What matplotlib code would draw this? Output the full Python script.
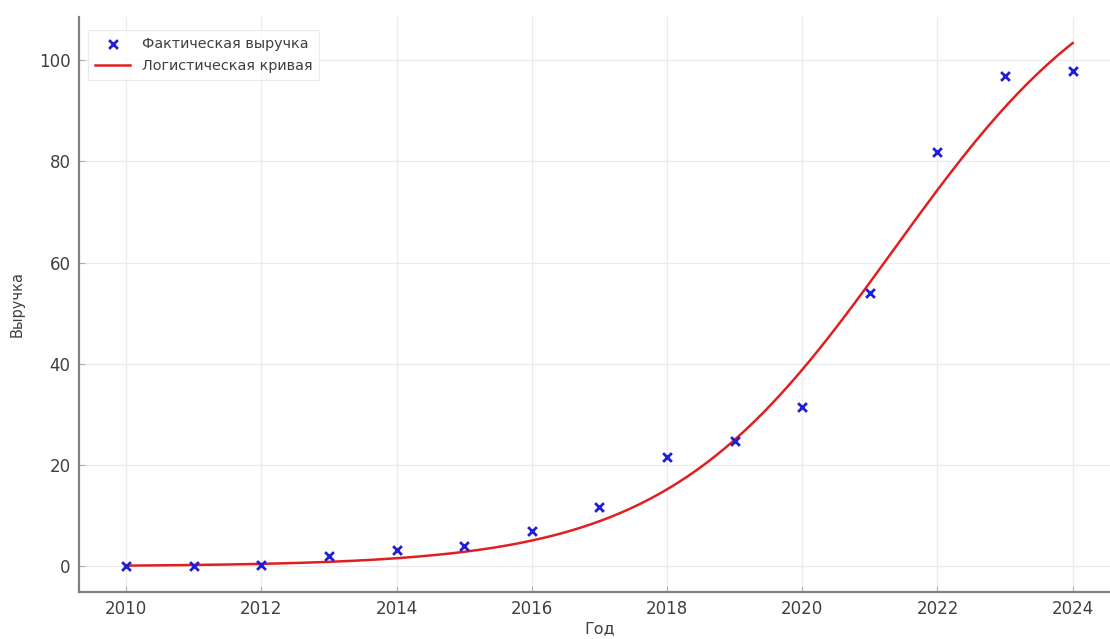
import numpy as np
import matplotlib
matplotlib.use("Agg")
import matplotlib.pyplot as plt

# Annual revenue observations
years = [2010, 2011, 2012, 2013, 2014, 2015, 2016, 2017,
         2018, 2019, 2020, 2021, 2022, 2023, 2024]
revenue = [0.1, 0.1, 0.3, 2.1, 3.3, 4.1, 6.9, 11.7,
           21.6, 24.8, 31.5, 54.0, 81.8, 96.8, 97.8]

# Logistic trend: capacity, growth rate, midpoint year
curve_capacity = 125.0
curve_rate = 0.59
curve_midpoint = 2021.35

x_obs = np.array(years, dtype=float)
x_fit = np.linspace(x_obs.min(), x_obs.max(), 300)
y_fit = curve_capacity / (1.0 + np.exp(-curve_rate * (x_fit - curve_midpoint)))

fig = plt.figure(figsize=(11.1, 6.39), dpi=100)
ax = fig.add_axes([0.071, 0.0735, 0.938, 0.900])

ax.scatter(years, revenue, marker="x", color="#1f1fd6", s=40, linewidths=2,
           label="Фактическая выручка", zorder=3)
ax.plot(x_fit, y_fit, color="#e02020", lw=1.8, label="Логистическая кривая", zorder=2)

ax.set_xticks([2010, 2012, 2014, 2016, 2018, 2020, 2022, 2024])
ax.set_yticks([0, 20, 40, 60, 80, 100])
ax.grid(True, color="#ebebeb", lw=0.9)
ax.set_axisbelow(True)

for side in ("top", "right"):
    ax.spines[side].set_visible(False)
for side in ("left", "bottom"):
    ax.spines[side].set_color("#808080")
    ax.spines[side].set_linewidth(1.6)

ax.tick_params(direction="in", length=4, color="#b0b0b0", labelsize=12,
               labelcolor="#404040", pad=6)
ax.set_xlabel("Год", fontsize=11.5, color="#404040", labelpad=2)
ax.set_ylabel("Выручка", fontsize=10.5, color="#404040", labelpad=10)

leg = ax.legend(loc="upper left", fontsize=10.4, frameon=True, fancybox=False,
                borderpad=0.5, handlelength=2.4, labelspacing=0.55,
                bbox_to_anchor=(0.002, 0.99))
leg.get_frame().set_edgecolor("#e6e6e6")
leg.get_frame().set_linewidth(0.8)
for t in leg.get_texts():
    t.set_color("#404040")

fig.savefig("out.png", dpi=100)
